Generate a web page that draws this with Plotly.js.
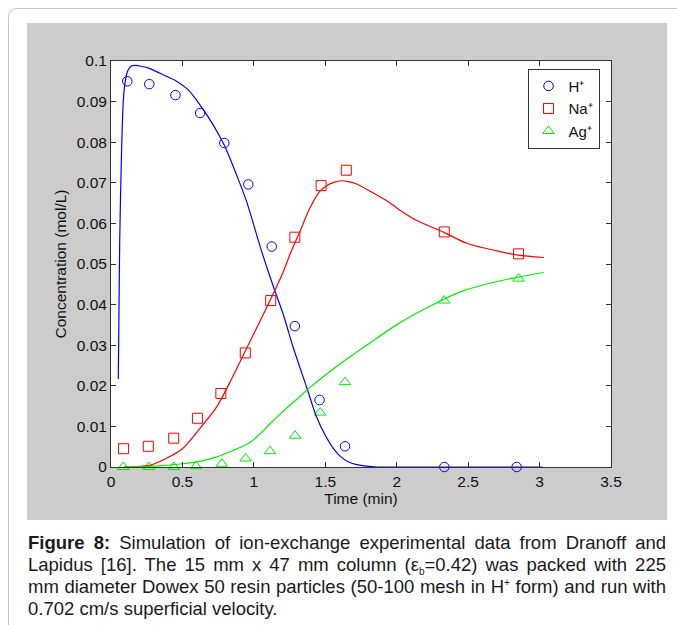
<!DOCTYPE html>
<html>
<head>
<meta charset="utf-8">
<script src="https://cdn.plot.ly/plotly-3.0.1.min.js"></script>
<style>
  html, body { margin:0; padding:0; background:#fff; width:677px; height:625px; overflow:hidden; }
  #frame { position:absolute; left:8px; top:8px; width:700px; height:700px; border:1.5px solid #c4c4c4; border-radius:9px; box-sizing:border-box; }
  #chart { position:absolute; left:27px; top:23px; width:640px; height:497px; }
  #caption { position:absolute; left:28px; top:532px; width:638px; font-family:"Liberation Sans", Arial, sans-serif; font-size:18.5px; line-height:22px; color:#1a1a1a; }
  #caption .ln { text-align:justify; text-align-last:justify; white-space:nowrap; }
  #caption .last { text-align:left; text-align-last:left; white-space:nowrap; }
  #caption sub, #caption sup { font-size:10px; line-height:0; vertical-align:baseline; position:relative; }
  #caption sub { top:4px; }
  #caption sup { top:-7px; }
</style>
</head>
<body>
<div id="frame"></div>
<div id="chart"></div>
<div id="caption"><div class="ln"><b>Figure 8:</b> Simulation of ion-exchange experimental data from Dranoff and</div><div class="ln">Lapidus [16]. The 15 mm x 47 mm column (ε<sub>b</sub>=0.42) was packed with 225</div><div class="ln">mm diameter Dowex 50 resin particles (50-100 mesh in H<sup>+</sup> form) and run with</div><div class="last">0.702 cm/s superficial velocity.</div></div>
<script>
// Simulated curves
var tH_line = [0.051, 0.055, 0.061, 0.074, 0.086, 0.097, 0.116, 0.14, 0.17, 0.21, 0.268, 0.385, 0.456, 0.537, 0.619, 0.713, 0.795, 0.877, 0.947, 1.053, 1.134, 1.205, 1.275, 1.369, 1.439, 1.5, 1.556, 1.61, 1.66, 1.72, 1.79, 1.86, 2.0, 2.5, 3.02];
var cH_line = [0.0217, 0.035, 0.0557, 0.0779, 0.0901, 0.0943, 0.0975, 0.0987, 0.0989, 0.0987, 0.0982, 0.0963, 0.0951, 0.0930, 0.0894, 0.0844, 0.0791, 0.0721, 0.0656, 0.0533, 0.0447, 0.0377, 0.0295, 0.0197, 0.0123, 0.0078, 0.0046, 0.0025, 0.0013, 0.0006, 0.0002, 0, 0, 0, 0];

var tNa_line = [0.09, 0.27, 0.385, 0.5, 0.62, 0.74, 0.85, 0.97, 1.09, 1.2, 1.26, 1.32, 1.39, 1.46, 1.52, 1.56, 1.61, 1.66, 1.72, 1.82, 1.93, 2.02, 2.14, 2.33, 2.49, 2.73, 2.85, 3.03];
var cNa_line = [0.0, 0.0004, 0.0021, 0.0045, 0.0094, 0.0148, 0.0221, 0.0307, 0.0393, 0.0476, 0.0530, 0.0578, 0.0636, 0.0678, 0.0695, 0.0701, 0.0705, 0.0703, 0.0697, 0.0678, 0.0656, 0.0633, 0.0607, 0.0578, 0.0551, 0.0530, 0.0522, 0.0516];

var tAg_line = [0.09, 0.3, 0.5, 0.62, 0.74, 0.85, 0.97, 1.05, 1.13, 1.22, 1.31, 1.4, 1.5, 1.6, 1.7, 1.81, 2.02, 2.26, 2.45, 2.68, 2.84, 3.03];
var cAg_line = [0, 0.0002, 0.0008, 0.0014, 0.0025, 0.0040, 0.0060, 0.0084, 0.0112, 0.0142, 0.0170, 0.0198, 0.0226, 0.0253, 0.0278, 0.0305, 0.0355, 0.0401, 0.0432, 0.0455, 0.0467, 0.0479];

// Experimental data
var tH_data = [0.114, 0.268, 0.451, 0.624, 0.793, 0.961, 1.125, 1.287, 1.46, 1.638, 2.333, 2.84];
var cH_data = [0.095, 0.0943, 0.0916, 0.0872, 0.0798, 0.0696, 0.0543, 0.0347, 0.0165, 0.0051, 0, 0];
var tNa_data = [0.088, 0.261, 0.439, 0.605, 0.769, 0.94, 1.118, 1.287, 1.471, 1.647, 2.333, 2.853];
var cNa_data = [0.0045, 0.0051, 0.0071, 0.012, 0.0181, 0.0281, 0.041, 0.0566, 0.0693, 0.0731, 0.0579, 0.0525];
var tAg_data = [0.086, 0.265, 0.44, 0.596, 0.776, 0.942, 1.113, 1.289, 1.464, 1.638, 2.333, 2.853];
var cAg_data = [0, 0, 0, 0.0002, 0.0008, 0.0021, 0.0039, 0.0077, 0.0134, 0.0209, 0.041, 0.0464];

// Ticks
var xTickVals = [0, 0.5, 1, 1.5, 2, 2.5, 3, 3.5];
var xTickText = ["0", "0.5", "1", "1.5", "2", "2.5", "3", "3.5"];
var yTickVals = [0, 0.01, 0.02, 0.03, 0.04, 0.05, 0.06, 0.07, 0.08, 0.09, 0.1];
var yTickText = ["0", "0.01", "0.02", "0.03", "0.04", "0.05", "0.06", "0.07", "0.08", "0.09", "0.1"];

var names = ["H⁺", "Na⁺", "Ag⁺"];
var BLUE = "#0000ff", RED = "#ff0000", GREEN = "#00ee00";
var FONT = "Liberation Sans, Arial, sans-serif";

var traces = [
  {x: tH_data, y: cH_data, mode: "markers", name: names[0], cliponaxis: false,
   marker: {symbol: "circle-open", size: 9.5, color: BLUE, line: {width: 1, color: BLUE}}},
  {x: tNa_data, y: cNa_data, mode: "markers", name: names[1], cliponaxis: false,
   marker: {symbol: "square-open", size: 10, color: RED, line: {width: 1, color: RED}}},
  {x: tAg_data, y: cAg_data, mode: "markers", name: names[2], cliponaxis: false,
   marker: {symbol: "triangle-up-open", size: 10, color: GREEN, line: {width: 1, color: GREEN}}},
  {x: tH_line, y: cH_line, mode: "lines", showlegend: false, line: {color: BLUE, width: 1.2, shape: "spline", smoothing: 0.8}},
  {x: tNa_line, y: cNa_line, mode: "lines", showlegend: false, line: {color: RED, width: 1.2, shape: "spline", smoothing: 0.8}},
  {x: tAg_line, y: cAg_line, mode: "lines", showlegend: false, line: {color: GREEN, width: 1.2, shape: "spline", smoothing: 0.8}}
];

var axisCommon = {
  showgrid: false, zeroline: false, showline: true, linecolor: "#333", linewidth: 1,
  ticks: "inside", ticklen: 5, tickcolor: "#333", mirror: "ticks",
  tickfont: {family: FONT, size: 15.5, color: "#111"}
};

var layout = {
  width: 640, height: 497,
  paper_bgcolor: "#cccccc", plot_bgcolor: "#ffffff",
  margin: {l: 84, r: 56, t: 38, b: 53},
  font: {family: FONT, size: 15.5, color: "#111"},
  showlegend: true,
  legend: {x: 0.833, y: 0.981, xanchor: "left", yanchor: "top", bgcolor: "#ffffff",
           bordercolor: "#333", borderwidth: 1, font: {size: 15, color: "#111"}},
  xaxis: Object.assign({}, axisCommon, {range: [0, 3.5], tickmode: "array", tickvals: xTickVals, ticktext: xTickText,
           title: {text: "Time (min)", standoff: 2, font: {size: 15.5}}}),
  yaxis: Object.assign({}, axisCommon, {range: [0, 0.1], tickmode: "array", tickvals: yTickVals, ticktext: yTickText,
           title: {text: "Concentration (mol/L)", standoff: 6, font: {size: 15.5}}})
};

Plotly.newPlot("chart", traces, layout, {staticPlot: true, displayModeBar: false});
</script>
</body>
</html>
